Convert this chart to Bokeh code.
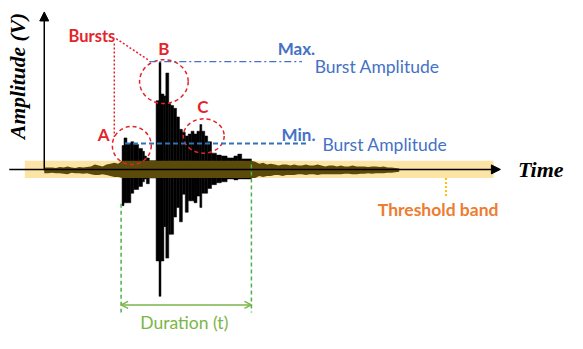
from bokeh.plotting import figure
from bokeh.models import Range1d, Arrow, NormalHead, OpenHead, ColumnDataSource, Label
from bokeh.embed import file_html
from bokeh.resources import INLINE
import math

# ---- data (time in arbitrary units, amplitude in arbitrary units, 0 = baseline) ----
burst_t0 = [125, 127, 130, 134, 137, 142, 146, 148, 150, 153,
            160, 163, 165, 168, 170, 173, 175, 178, 181, 184,
            187, 190, 193, 196, 199, 202, 205, 207, 210, 213,
            217, 222, 227, 233, 240, 244, 248]
burst_t1 = burst_t0[1:] + [258]
burst_pos = [26, 34, 28, 30, 27, 23, 20, 15, 13, 10,
             73, 113, 80, 78, 102, 70, 68, 65, 56, 43,
             40, 36, 38, 41, 38, 41, 48, 41, 36, 30,
             18, 16, 15, 13, 15, 17, 12]
burst_neg = [-37, -34, -34, -24, -20, -17, -12, -9, -14, -8,
             -95, -132, -95, -59, -92, -67, -67, -49, -39, -54,
             -25, -44, -32, -32, -34, -27, -39, -24, -24, -19,
             -15, -13, -12, -9, -10, -9, -9]

noise_t_left = list(range(45, 122, 4))
noise_up_left = [3, 3, 3, 2.5, 3.5, 3, 4, 3, 2.5, 3.5, 3, 3.5, 4, 6, 5, 4, 6, 7, 8, 7]
noise_dn_left = [3, 3, 2.5, 3, 3, 3.5, 4, 2.5, 3, 3, 3.5, 3, 4, 5, 5, 4, 5, 6, 7, 7]
noise_t_mid = [125, 258]
noise_up_mid = [10, 10]
noise_dn_mid = [8, 8]
noise_t_right = list(range(262, 411, 4))
noise_up_right = [9, 7, 8, 6, 7, 6, 5, 6, 6, 5, 6, 5, 5, 6, 5, 5, 6, 5, 4, 5,
                  5, 4, 5, 4, 4, 5, 4, 4, 4, 3.5, 4, 4, 3.5, 4, 3, 3, 2.5, 2]
noise_dn_right = [8, 6, 7, 6, 6, 5, 5, 6, 5, 5, 5, 4, 4, 5, 4, 4, 5, 4, 4, 4,
                  4, 4, 4, 3.5, 3.5, 4, 4, 3.5, 3.5, 3, 3.5, 3, 3, 3, 2.5, 2.5, 2, 1.5]

threshold_band = [-8, 10]
band_time = [25, 507]
max_amp = 114
min_amp = 28
duration = [124, 258]

RED = "#E3242B"
BLUE = "#4472C4"
GREEN = "#4DB04A"
LGREEN = "#7AB648"
ORANGE = "#ED7D31"
BROWN = "#5C4A0A"
BAND = "#FCE4A6"

p = figure(width=567, height=333, x_range=Range1d(0, 583), y_range=Range1d(-171, 178),
           output_backend="svg", toolbar_location=None, min_border=0,
           x_axis_type=None, y_axis_type=None)
p.grid.visible = False
p.outline_line_color = None
p.background_fill_color = "white"

# threshold band
p.quad(left=[band_time[0]], right=[band_time[1]], bottom=[threshold_band[0]], top=[threshold_band[1]],
       fill_color=BAND, line_color=None)

# time axis
p.add_layout(Arrow(x_start=9, y_start=1, x_end=514, y_end=1, line_color="black", line_width=1.5,
                   end=NormalHead(size=9, fill_color="black", line_color="black")))

# burst signal
src = ColumnDataSource(dict(left=burst_t0, right=burst_t1, top=burst_pos, bottom=burst_neg))
p.quad(left="left", right="right", top="top", bottom="bottom", source=src,
       fill_color="black", line_color="black", line_width=0.5)

# noise inside band
nt = noise_t_left + noise_t_mid + noise_t_right
nu = noise_up_left + noise_up_mid + noise_up_right
nd = [-v for v in noise_dn_left + noise_dn_mid + noise_dn_right]
p.varea(x=nt, y1=nd, y2=nu, fill_color=BROWN)

# amplitude axis
p.add_layout(Arrow(x_start=45, y_start=0, x_end=45, y_end=166, line_color="black", line_width=1.5,
                   end=NormalHead(size=9, fill_color="black", line_color="black")))

# burst circles
p.ellipse(x=[135, 168, 209], y=[26, 93, 36], width=[40, 50, 42], height=[40, 46, 36],
          fill_color=None, line_color=RED, line_width=1.5, line_dash="4 3")

# bursts pointers
p.line(x=[117, 117], y=[133, 35], line_color=RED, line_width=1.5, line_dash="2 2")
p.line(x=[119, 153], y=[138, 115], line_color=RED, line_width=1.5, line_dash="2 2")

# max / min amplitude lines
p.line(x=[153, 310], y=[max_amp, max_amp], line_color=BLUE, line_width=1.3, line_dash="7 3 2 3")
p.line(x=[128, 315], y=[min_amp, min_amp], line_color="#2E75B6", line_width=2, line_dash="5 3")

# duration
p.line(x=[duration[0], duration[0]], y=[-35, -149], line_color=GREEN, line_width=1.5, line_dash="4 3")
p.line(x=[duration[1], duration[1]], y=[6, -149], line_color=GREEN, line_width=1.5, line_dash="4 3")
p.add_layout(Arrow(x_start=duration[0], y_start=-141, x_end=duration[1], y_end=-141,
                   line_color=LGREEN, line_width=1.5,
                   start=OpenHead(size=7, line_color=LGREEN, line_width=1.5),
                   end=OpenHead(size=7, line_color=LGREEN, line_width=1.5)))

# threshold pointer
p.line(x=[458, 458], y=[-8, -29], line_color="#FFC000", line_width=2, line_dash="2 2")

def lab(x, y, t, color, size, style="normal", font="Lato", align="left", angle=0):
    p.add_layout(Label(x=x, y=y, text=t, text_color=color, text_font_size=f"{size}px",
                       text_font_style=style, text_font=font, text_align=align,
                       text_baseline="middle", angle=angle))

lab(70, 141, "Bursts", RED, 16.5, "bold")
lab(106, 38, "A", RED, 17, "bold", align="center")
lab(168, 128, "B", RED, 17, "bold", align="center")
lab(208, 67, "C", RED, 17, "bold", align="center")
lab(285, 128, "Max.", BLUE, 17, "bold")
lab(323, 109, "Burst Amplitude", BLUE, 17.5)
lab(289, 38, "Min.", BLUE, 17, "bold")
lab(331, 27, "Burst Amplitude", BLUE, 17.5)
lab(189, -159, "Duration (t)", LGREEN, 17.5, align="center")
lab(388, -41, "Threshold band", ORANGE, 17.5, "bold")
lab(532, 1, "Time", "black", 22, "bold italic", font="Liberation Serif")
lab(18, 99, "Amplitude (V)", "black", 21.5, "bold italic", font="Liberation Serif",
    align="center", angle=math.pi / 2)

open("out.html", "w").write(file_html(p, INLINE))
